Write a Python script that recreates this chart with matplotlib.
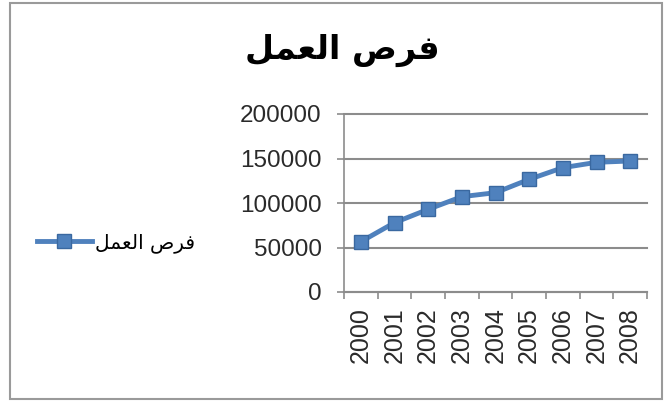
import matplotlib
matplotlib.use("Agg")
import matplotlib.pyplot as plt
from matplotlib.patches import Rectangle

years = ["2000", "2001", "2002", "2003", "2004", "2005", "2006", "2007", "2008"]
jobs = [56500, 77900, 92900, 107100, 111600, 126600, 139700, 145700, 147200]
y_ticks = [0, 50000, 100000, 150000, 200000]
# "فرص العمل" shaped into presentation forms, visual (LTR) order
title_text = "\uFEDE\uFEE4\uFECC\uFEDF\uFE8D \uFEB9\uFEAE\uFED3"
series_name = title_text

blue = "#4F81BD"
grid_c = "#8C8C8C"

fig = plt.figure(figsize=(6.67, 4.03), dpi=100)
fig.patches.append(Rectangle((10/667, 1-399/403), 652/667, 396/403, transform=fig.transFigure,
                             fill=False, edgecolor="#9A9A9A", linewidth=1.5))
ax = fig.add_axes([344/667, 1-292/403, 303/667, 178/403])

x = list(range(len(years)))
line, = ax.plot(x, jobs, color=blue, linewidth=3.5, marker="s", markersize=10,
                markerfacecolor=blue, markeredgecolor="#3A68A0", label=series_name)

ax.set_xlim(-0.5, len(years) - 0.5)
ax.set_ylim(0, 200000)
ax.set_yticks(y_ticks)
ax.set_yticklabels([str(v) for v in y_ticks], fontfamily="Liberation Sans", fontsize=17.5, color="#2A2A2A")
ax.set_xticks([i - 0.5 for i in range(len(years) + 1)], minor=False)
ax.set_xticklabels([""] * (len(years) + 1))
ax.set_xticks(x, minor=True)
ax.set_xticklabels(years, minor=True, rotation=90, fontfamily="Liberation Sans", fontsize=18, color="#2A2A2A")
ax.tick_params(axis="x", which="minor", length=0, pad=11)
ax.tick_params(axis="x", which="major", length=5, color=grid_c, width=1.2)
ax.tick_params(axis="y", length=5, color=grid_c, width=1.2, pad=11)

ax.grid(axis="y", color=grid_c, linewidth=1.5)
for gl in ax.get_ygridlines():
    gl.set_clip_on(False)
ax.set_axisbelow(True)
for s in ["top", "right"]:
    ax.spines[s].set_visible(False)
ax.spines["left"].set_color(grid_c)
ax.spines["bottom"].set_color(grid_c)
ax.spines["left"].set_linewidth(1.2)
ax.spines["bottom"].set_linewidth(1.5)

fig.text(342/667, 1-50/403, title_text, ha="center", va="center", fontsize=24,
         fontweight="bold", fontfamily="DejaVu Sans")

leg = fig.legend(handles=[line], labels=[series_name], loc="center left",
                 bbox_to_anchor=(19/667, 1-243/403), frameon=False,
                 prop={"family": "DejaVu Sans", "size": 14.5}, handlelength=2.7, handletextpad=0.15)

fig.savefig("out.png", dpi=100)
